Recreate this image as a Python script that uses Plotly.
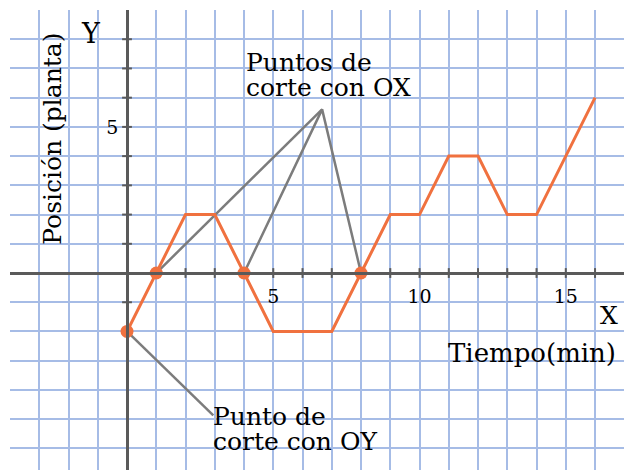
import plotly.graph_objects as go

# trayectoria (tiempo, posición)
t_min = [0, 1, 2, 3, 4, 5, 7, 8, 9, 10, 11, 12, 13, 14, 16]
pos = [-2, 0, 2, 2, 0, -2, -2, 0, 2, 2, 4, 4, 2, 2, 6]

# puntos de corte
cut_x = [1, 4, 8, 0]
cut_y = [0, 0, 0, -2]

# guías grises hacia las etiquetas
apex = (6.67, 5.6)
guide_ox_x = [1, apex[0], None, 4, apex[0], 8]
guide_ox_y = [0, apex[1], None, 0, apex[1], 0]
guide_oy_x = [0, 2.95]
guide_oy_y = [-2, -4.87]

# marcas de los ejes
x_ticks = list(range(1, 17))
y_ticks = [-2, -1, 1, 2, 3, 4, 5, 6, 7, 8]
x_labels = [5, 10, 15]
y_labels = [5]

X_RANGE = [-4, 16.99]
Y_RANGE = [-6.74, 9]
FONT = "DejaVu Serif"
GRID = "#a6bce6"
AXIS = "#5a5a5a"
ORANGE = "#f0713f"
GRAY = "#7c7c7c"

fig = go.Figure()

# marcas cruzando los ejes (sobre los ejes de la cuadrícula)
fig.add_trace(go.Scatter(x=x_ticks, y=[0] * len(x_ticks), mode="markers",
                         marker=dict(symbol="line-ns", size=7,
                                     line=dict(color=AXIS, width=2))))
fig.add_trace(go.Scatter(x=[0] * len(y_ticks), y=y_ticks, mode="markers",
                         marker=dict(symbol="line-ew", size=7,
                                     line=dict(color=AXIS, width=2))))

fig.add_trace(go.Scatter(x=guide_ox_x, y=guide_ox_y, mode="lines",
                         line=dict(color=GRAY, width=2.5), xaxis="x2", yaxis="y2"))
fig.add_trace(go.Scatter(x=guide_oy_x, y=guide_oy_y, mode="lines",
                         line=dict(color=GRAY, width=2.5), xaxis="x2", yaxis="y2"))
fig.add_trace(go.Scatter(x=t_min, y=pos, mode="lines",
                         line=dict(color=ORANGE, width=3), xaxis="x2", yaxis="y2"))
fig.add_trace(go.Scatter(x=cut_x, y=cut_y, mode="markers",
                         marker=dict(color=ORANGE, size=13), xaxis="x2", yaxis="y2"))

x0_frac = (0 - Y_RANGE[0]) / (Y_RANGE[1] - Y_RANGE[0])
y0_frac = (0 - X_RANGE[0]) / (X_RANGE[1] - X_RANGE[0])

fig.update_layout(
    width=624, height=470,
    margin=dict(l=10, r=0, t=10, b=0),
    paper_bgcolor="white", plot_bgcolor="white",
    showlegend=False,
    xaxis=dict(range=X_RANGE, dtick=1, tick0=0, showgrid=True, gridcolor=GRID,
               gridwidth=1.5, showticklabels=False, zeroline=False, ticks=""),
    yaxis=dict(range=Y_RANGE, dtick=1, tick0=0, showgrid=True, gridcolor=GRID,
               gridwidth=1.5, showticklabels=False, zeroline=False, ticks=""),
    xaxis2=dict(range=X_RANGE, overlaying="x", anchor="free", position=x0_frac,
                showline=True, linecolor=AXIS, linewidth=2.5, showgrid=False,
                zeroline=False, tickvals=x_labels, ticks="", ticklabelstandoff=5,
                tickfont=dict(family=FONT, size=19, color="black")),
    yaxis2=dict(range=Y_RANGE, overlaying="y", anchor="free", position=y0_frac,
                showline=True, linecolor=AXIS, linewidth=2.5, showgrid=False,
                zeroline=False, tickvals=y_labels, ticks="", ticklabelstandoff=4,
                tickfont=dict(family=FONT, size=19, color="black")),
)

def label(text, x, y, size=25, xanchor="left", angle=0):
    fig.add_annotation(text=text, x=x, y=y, xref="x2", yref="y2", showarrow=False,
                       xanchor=xanchor, yanchor="middle", textangle=angle,
                       font=dict(family=FONT, size=size, color="black"))

label("Y", -1.22, 8.2, size=27, xanchor="center")
label("X", 16.46, -1.45, size=25, xanchor="center")
label("Tiempo(min)", 13.86, -2.75, size=26, xanchor="center")
label("Puntos de", 4.0, 7.22)
label("corte con OX", 4.0, 6.35)
label("Punto de", 2.87, -4.9)
label("corte con OY", 2.87, -5.75)
label("Posición (planta)", -2.55, 4.61, size=25, xanchor="center", angle=-90)

fig.write_html("out.html", config={"displayModeBar": False},
               post_script="document.body.style.margin='0';")
